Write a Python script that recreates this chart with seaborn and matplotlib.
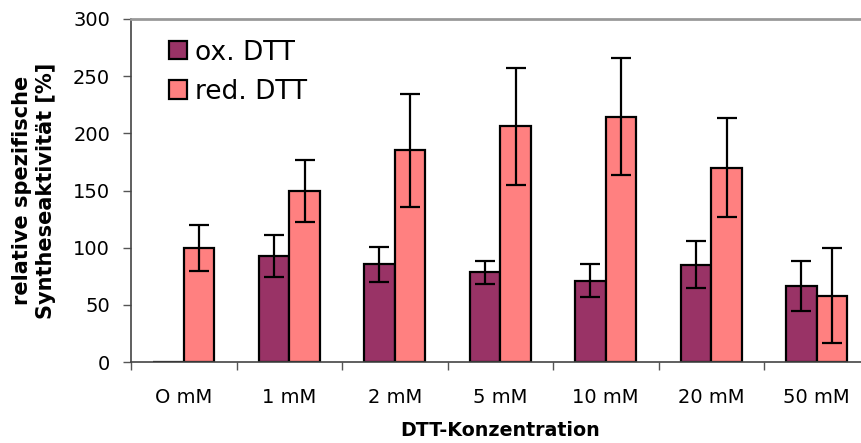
import numpy as np
import pandas as pd
import matplotlib
matplotlib.use("Agg")
import matplotlib.pyplot as plt
import seaborn as sns
from matplotlib.patches import Patch

# DTT concentrations and measured relative activities (mean ± error)
concentrations = ["O mM", "1 mM", "2 mM", "5 mM", "10 mM", "20 mM", "50 mM"]
ox_mean = [0, 92.5, 85.5, 78.5, 71, 85, 66.5]
ox_err = [0, 18.5, 15.5, 10, 14.5, 20.5, 22]
red_mean = [100, 149.5, 185, 206, 214.5, 170, 58]
red_err = [20, 27, 49, 51, 51, 43, 41.5]
series = ["ox. DTT", "red. DTT"]
colors = ["#993366", "#FF8080"]

df = pd.DataFrame({
    "conc": concentrations * 2,
    "form": [series[0]] * len(concentrations) + [series[1]] * len(concentrations),
    "value": ox_mean + red_mean,
    "err": ox_err + red_err,
})

sns.set_style("white")
plt.rcParams["font.family"] = ["DejaVu Sans"]
plt.rcParams["text.color"] = "black"
plt.rcParams["axes.labelcolor"] = "black"
plt.rcParams["xtick.color"] = "black"
plt.rcParams["ytick.color"] = "black"

fig = plt.figure(figsize=(8.61, 4.43), dpi=100)
ax = fig.add_axes([131 / 861, 81 / 443, 738.5 / 861, 343 / 443])

sns.barplot(data=df, x="conc", y="value", hue="form", order=concentrations,
            hue_order=series, palette=colors, width=0.58, gap=0,
            edgecolor="black", linewidth=1.6, errorbar=None, legend=False,
            saturation=1, ax=ax)

# error bars at the centre of each drawn bar
bars = [p for p in ax.patches]
n = len(concentrations)
for i, (vals, errs) in enumerate([(ox_mean, ox_err), (red_mean, red_err)]):
    for j in range(n):
        if errs[j] == 0:
            continue
        p = bars[i * n + j]
        xc = p.get_x() + p.get_width() / 2
        ax.errorbar(xc, vals[j], yerr=errs[j], fmt="none", ecolor="black",
                    elinewidth=1.6, capsize=7.5, capthick=1.6, zorder=5)

ax.set_ylim(0, 300)
ax.set_xlim(-0.5, n - 0.5)
ax.set_yticks(np.arange(0, 301, 50))
ax.tick_params(axis="y", which="major", direction="out", length=6, width=1,
               color="#555555", labelsize=14, pad=9, left=True)
ax.set_xticks(range(n))
ax.set_xticklabels(concentrations)
ax.tick_params(axis="x", which="major", length=0, labelsize=14, pad=19)
ax.set_xticks(np.arange(-0.5, n, 1.0), minor=True)
ax.tick_params(axis="x", which="minor", direction="out", length=6, width=1,
               color="#555555", bottom=True)

for side in ["left", "bottom"]:
    ax.spines[side].set_color("#444444")
    ax.spines[side].set_linewidth(1.2)
ax.spines["top"].set_color("#999999")
ax.spines["top"].set_linewidth(2)
ax.spines["right"].set_visible(False)

ax.set_xlabel("DTT-Konzentration", fontsize=13.7, fontweight="bold", labelpad=10)
ax.set_ylabel("relative spezifische\nSyntheseaktivität [%]", fontsize=15,
              fontweight="bold", labelpad=12, linespacing=1.3)

handles = [Patch(facecolor=c, edgecolor="black", linewidth=1.6) for c in colors]
ax.legend(handles, series, loc="upper left", bbox_to_anchor=(0.052, 0.94),
          frameon=False, fontsize=19, handlelength=0.68, handleheight=0.68,
          handletextpad=0.3, labelspacing=0.5, borderaxespad=0,
          borderpad=0)

fig.savefig("out.png", dpi=100)
